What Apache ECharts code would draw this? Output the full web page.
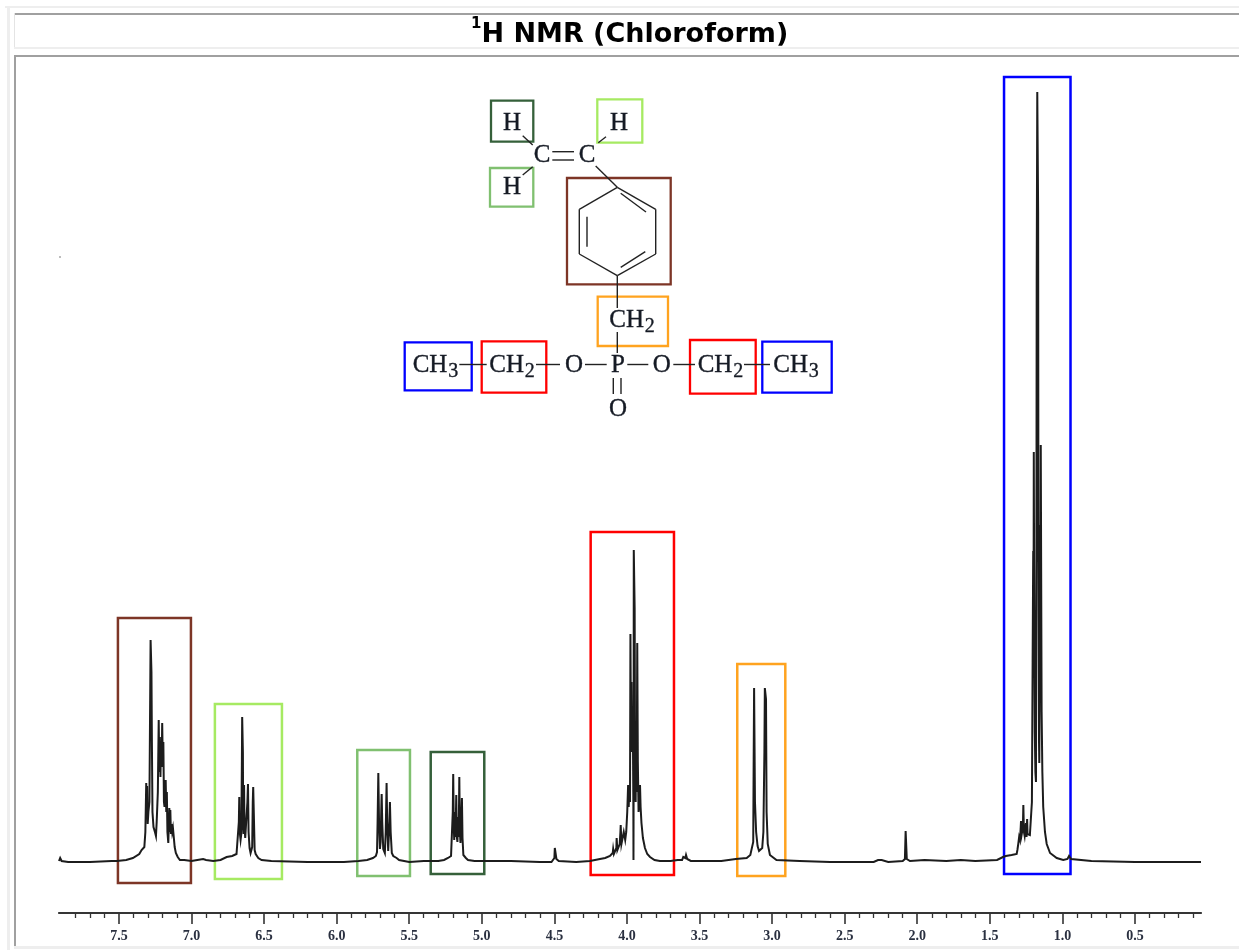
<!DOCTYPE html>
<html><head><meta charset="utf-8">
<style>html,body{margin:0;padding:0;background:#fff}#c{width:1239px;height:950px}</style>
<script src="https://cdn.jsdelivr.net/npm/echarts@6/dist/echarts.min.js"></script>
</head><body><div id="c"></div>
<script>
// chemical shift (ppm) and intensity, region by region
const leftBaseline = [[7.913,1],[7.905,4],[7.895,1],[7.85,0],[7.7,0],[7.55,1]];
const aromatic = [[7.514,1],[7.45,2],[7.404,4],[7.36,8],[7.344,12],[7.325,15],[7.318,30],[7.312,79],[7.309,45],[7.306,76],[7.302,38],[7.297,50],[7.29,60],[7.285,160],[7.282,222],[7.279,222],[7.276,190],[7.273,120],[7.269,50],[7.262,35],[7.252,30],[7.245,26],[7.24,40],[7.232,70],[7.226,142],[7.222,90],[7.218,125],[7.214,85],[7.21,120],[7.206,95],[7.202,139],[7.198,100],[7.194,120],[7.19,60],[7.186,55],[7.182,72],[7.178,82],[7.174,50],[7.17,70],[7.166,30],[7.16,19],[7.157,35],[7.153,54],[7.149,30],[7.146,52],[7.142,28],[7.138,38],[7.133,30],[7.128,34],[7.123,34],[7.116,15],[7.108,9],[7.095,5],[7.08,2],[7.05,2],[7.0,1],[6.96,2],[6.92,3],[6.9,2],[6.85,1],[6.8,2]];
const vinylA = [[6.758,5],[6.72,6],[6.69,8],[6.677,10],[6.674,40],[6.671,65],[6.668,30],[6.662,22],[6.657,28],[6.653,100],[6.651,145],[6.648,145],[6.646,110],[6.644,35],[6.641,28],[6.638,77],[6.635,35],[6.63,24],[6.625,25],[6.62,22],[6.615,60],[6.611,78],[6.607,30],[6.6,14],[6.593,9],[6.587,7],[6.582,15],[6.578,60],[6.575,75],[6.571,50],[6.565,12],[6.558,8],[6.54,4],[6.517,2],[6.45,1],[6.2,0],[5.95,0]];
const vinylB = [[5.85,1],[5.79,2],[5.75,4],[5.73,6],[5.722,10],[5.718,40],[5.713,89],[5.708,40],[5.702,13],[5.697,20],[5.693,50],[5.69,68],[5.686,40],[5.679,13],[5.668,9],[5.662,30],[5.656,79],[5.652,40],[5.645,11],[5.638,35],[5.633,60],[5.628,30],[5.62,9],[5.61,6],[5.6,4],[5.587,4],[5.57,2],[5.5,0],[5.4,1]];
const vinylC = [[5.3,1],[5.26,2],[5.233,4],[5.212,6],[5.204,7],[5.2,50],[5.197,88],[5.193,35],[5.19,22],[5.186,50],[5.181,25],[5.176,67],[5.172,25],[5.168,20],[5.163,45],[5.159,25],[5.155,85],[5.151,30],[5.147,19],[5.142,40],[5.137,64],[5.133,24],[5.127,7],[5.11,4],[5.095,2],[5.05,1],[4.8,1],[4.6,0]];
const impurityA = [[4.52,0],[4.5,4],[4.497,14],[4.492,14],[4.486,3],[4.47,1],[4.35,0]];
const methylene = [[4.255,1],[4.186,3],[4.15,4],[4.117,6],[4.105,8],[4.098,9],[4.095,13],[4.09,8],[4.08,10],[4.073,14],[4.071,24],[4.066,12],[4.057,12],[4.05,18],[4.045,30],[4.043,37],[4.038,18],[4.03,19],[4.022,30],[4.02,32],[4.012,22],[4.005,30],[3.998,50],[3.992,77],[3.988,55],[3.983,74],[3.979,60],[3.976,228],[3.973,140],[3.969,180],[3.965,110],[3.96,150],[3.956,60],[3.955,2],[3.954,80],[3.953,312],[3.95,312],[3.947,254],[3.944,90],[3.94,60],[3.937,120],[3.933,70],[3.929,219],[3.925,100],[3.92,50],[3.914,60],[3.91,77],[3.906,55],[3.9,39],[3.89,24],[3.876,14],[3.86,8],[3.841,5],[3.81,2],[3.773,1],[3.7,1],[3.65,2],[3.62,2],[3.612,5],[3.605,3],[3.598,4],[3.593,7],[3.585,3],[3.56,1],[3.45,1],[3.35,1],[3.25,3]];
const benzylic = [[3.175,4],[3.15,7],[3.137,9],[3.13,20],[3.127,100],[3.124,174],[3.121,174],[3.118,60],[3.11,30],[3.1,16],[3.09,11],[3.077,9],[3.068,14],[3.06,30],[3.053,110],[3.05,174],[3.047,172],[3.042,163],[3.038,50],[3.03,18],[3.015,7],[2.97,2],[2.81,1],[2.6,0]];
const impurityB = [[2.3,0],[2.27,2],[2.257,4],[2.245,2],[2.2,0],[2.1,1],[2.085,3],[2.08,31],[2.076,31],[2.072,3],[2.05,1],[1.95,2],[1.8,1],[1.7,2],[1.6,1]];
const methyl = [[1.45,2],[1.409,5],[1.39,6],[1.384,6],[1.35,7],[1.315,8],[1.31,12],[1.304,18],[1.298,25],[1.292,22],[1.287,35],[1.285,41],[1.28,28],[1.272,35],[1.269,57],[1.265,30],[1.26,26],[1.254,35],[1.251,39],[1.247,25],[1.243,43],[1.24,28],[1.232,26],[1.224,27],[1.216,28],[1.21,60],[1.205,200],[1.201,311],[1.199,200],[1.197,410],[1.195,300],[1.19,130],[1.186,90],[1.182,80],[1.179,300],[1.177,584],[1.173,770],[1.169,770],[1.167,650],[1.165,300],[1.161,120],[1.159,99],[1.156,200],[1.154,337],[1.151,280],[1.149,417],[1.147,417],[1.143,150],[1.138,90],[1.132,55],[1.12,30],[1.108,18],[1.085,9],[1.039,4],[0.994,2],[0.965,3],[0.954,6],[0.94,3],[0.927,1],[0.8,1],[0.5,0],[0.2,0],[0.045,0]];
const strayDot = [[7.906,605]];

const majorTicks = [7.5,7,6.5,6,5.5,5,4.5,4,3.5,3,2.5,2,1.5,1,0.5];
const minorTicks = [7.8,7.7,7.6,7.4,7.3,7.2,7.1,6.9,6.8,6.7,6.6,6.4,6.3,6.2,6.1,5.9,5.8,5.7,5.6,5.4,5.3,5.2,5.1,4.9,4.8,4.7,4.6,4.4,4.3,4.2,4.1,3.9,3.8,3.7,3.6,3.4,3.3,3.2,3.1,2.9,2.8,2.7,2.6,2.4,2.3,2.2,2.1,1.9,1.8,1.7,1.6,1.4,1.3,1.2,1.1,0.9,0.8,0.7,0.6,0.4,0.3,0.2,0.1];

// assignment boxes around the multiplets: [ppm left, ppm right, low, high, colour]
const BROWN='#7d3526', LIME='#a6ea62', MID='#80c070', DARK='#35603a', RED='#ff0000', ORANGE='#ffa31f', BLUE='#0000ff';
const peakBoxes = [[7.507,7.004,-21,244,BROWN],[6.839,6.377,-17,158,LIME],[5.858,5.495,-14,112,MID],[5.352,4.983,-12,110,DARK],[4.25,3.676,-13,330,RED],[3.24,2.909,-14,198,ORANGE],[1.402,0.944,-12,785,BLUE]];

// structure drawing
const moleculeBoxes = [[491,100.7,533.3,141.7,DARK],[597.3,99.3,642.3,142.7,LIME],[490,168,533.3,206.7,MID],[567,178,670.7,284.3,BROWN],[597.7,296.7,668,346,ORANGE],[404.7,342.3,471.7,390.3,BLUE],[481.7,341.3,546.3,392.7,RED],[690,340,755.7,393.7,RED],[762.3,341.7,831.7,392.7,BLUE]];
const bonds = [[552.3,151.7,574,151.7],[552.3,160,574,160],[522.7,135.7,532.7,145],[522.7,175,532.7,166.7],[598.3,142.7,606,136.7],[595.7,166,617.3,187.3],
[617.3,187.3,655.7,209.3],[655.7,209.3,655.7,254],[655.7,254,617.3,275.7],[617.3,275.7,579.3,254],[579.3,254,579.3,209.3],[579.3,209.3,617.3,187.3],
[620.7,193.3,646,212],[587,216.7,587,246.7],[620.7,267.3,645.3,251.7],[617.3,275.7,617.3,308],[617.3,332,617.3,353],
[459.3,364.5,486.7,364.5],[536,364.5,560,364.5],[585,364.5,606.7,364.5],[627.3,364.5,648.3,364.5],[673.3,364.5,695,364.5],[744,364.5,770,364.5],[613.3,378,613.3,394],[621,378,621,394]];
const atoms = [['H',512,123],['H',619,123],['C',542,155],['C',587,155],['H',512,187],['O',574,365],['P',618,365],['O',661.7,365],['O',618,409]];
const groups = [['CH','2',609.3,320],['CH','3',412.7,365],['CH','2',489.3,365],['CH','2',697.7,365],['CH','3',773.3,365]];

const spectrum = [].concat(leftBaseline,aromatic,vinylA,vinylB,vinylC,impurityA,methylene,benzylic,impurityB,methyl);

const SERIF='"Liberation Serif","Times New Roman",serif';
const g=[];
const panel=(x,y,w,h,c)=>g.push({type:'rect',silent:true,z:-10,shape:{x,y,width:w,height:h},style:{fill:c}});
panel(5,6,1234,2,'#eeeeee'); panel(7,6,3,944,'#eeeeee');
panel(14,13,1225,2,'#a0a0a0'); panel(14,13,1,36,'#e4e4e4'); panel(14,47,1225,2,'#eeeeee');
panel(14,55,1225,2,'#a0a0a0'); panel(14,55,2,892,'#a0a0a0'); panel(14,946,1225,3,'#eeeeee');
for(const [x1,y1,x2,y2,c] of moleculeBoxes) g.push({type:'rect',silent:true,z:5,shape:{x:x1,y:y1,width:x2-x1,height:y2-y1},style:{fill:'transparent',stroke:c,lineWidth:2.3}});
for(const [x1,y1,x2,y2] of bonds) g.push({type:'line',silent:true,z:6,shape:{x1,y1,x2,y2},style:{stroke:'#222',lineWidth:1.4}});
const ink={fill:'#151a24',stroke:'#151a24',lineWidth:0.35};
for(const [t,x,y] of atoms) g.push({type:'text',silent:true,z:7,x,y,style:{text:t,font:'25px '+SERIF,textAlign:'center',textVerticalAlign:'middle',...ink}});
for(const [t,s,x,y] of groups){
  g.push({type:'text',silent:true,z:7,x,y,style:{text:t,font:'25px '+SERIF,textAlign:'left',textVerticalAlign:'middle',...ink}});
  g.push({type:'text',silent:true,z:7,x:x+35.5,y:y+7,style:{text:s,font:'20px '+SERIF,textAlign:'left',textVerticalAlign:'middle',...ink}});
}

const chart=echarts.init(document.getElementById('c'),null,{renderer:'canvas'});
const gridBox={left:59,right:38,top:57,bottom:37,containLabel:false};
const tickAxis=(idx,ticks,len,w)=>({type:'value',gridIndex:idx,inverse:true,min:0.045,max:7.913,position:'bottom',splitLine:{show:false},
    axisLine:{show:true,onZero:false,lineStyle:{color:'#333',width:1.6}},
    axisTick:{show:true,customValues:ticks,length:len,lineStyle:{color:'#333',width:w}},
    axisLabel:{show:false}});
const hiddenY=idx=>({type:'value',gridIndex:idx,min:-51,max:805,show:false,splitLine:{show:false}});
chart.setOption({
  animation:false,
  backgroundColor:'#ffffff',
  title:{left:466,top:12,text:'{sup|1}{main|H NMR (Chloroform)}',textStyle:{rich:{
    sup:{fontFamily:'DejaVu Sans',fontWeight:'bold',fontSize:15,verticalAlign:'top',lineHeight:30,padding:[0,0,6,0],color:'#000'},
    main:{fontFamily:'DejaVu Sans',fontWeight:'bold',fontSize:27,lineHeight:36,color:'#000'}}}},
  grid:[gridBox,gridBox,gridBox],
  xAxis:[
   {type:'value',gridIndex:0,inverse:true,min:0.045,max:7.913,position:'bottom',splitLine:{show:false},
    axisLine:{show:true,onZero:false,lineStyle:{color:'#333',width:1.6}},axisTick:{show:false},
    axisLabel:{show:true,customValues:majorTicks,formatter:v=>v.toFixed(1),margin:16,fontFamily:SERIF,fontWeight:'bold',fontSize:14,color:'#2a3040'}},
   tickAxis(1,minorTicks,5,1.3),
   tickAxis(2,majorTicks,11,1.6)
  ],
  yAxis:[hiddenY(0),hiddenY(1),hiddenY(2)],
  series:[
   {type:'line',data:spectrum,xAxisIndex:0,yAxisIndex:0,showSymbol:false,sampling:null,smooth:false,silent:true,
    lineStyle:{color:'#1c1c1c',width:2,join:'miter'},
    markArea:{silent:true,
      data:peakBoxes.map(([a,b,lo,hi,c])=>[{coord:[a,hi],itemStyle:{color:'rgba(0,0,0,0)',borderColor:c,borderWidth:2.5}},{coord:[b,lo]}])}},
   {type:'scatter',data:strayDot,xAxisIndex:0,yAxisIndex:0,symbolSize:1.5,silent:true,itemStyle:{color:'#333'}}
  ],
  graphic:{elements:g}
});
</script></body></html>
